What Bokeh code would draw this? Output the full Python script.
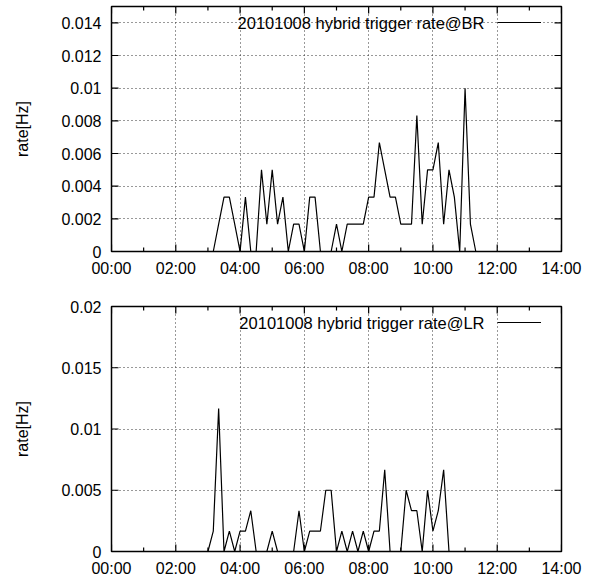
import math
from bokeh.plotting import figure
from bokeh.models import (FixedTicker, LinearAxis, Legend, LegendItem, Label,
                          ColumnDataSource, Range1d, Grid)
from bokeh.layouts import column
from bokeh.embed import file_html
from bokeh.resources import INLINE

# ---- data (10-minute samples) ----
times = [
    "00:00", "00:10", "00:20", "00:30", "00:40", "00:50",
    "01:00", "01:10", "01:20", "01:30", "01:40", "01:50",
    "02:00", "02:10", "02:20", "02:30", "02:40", "02:50",
    "03:00", "03:10", "03:20", "03:30", "03:40", "03:50",
    "04:00", "04:10", "04:20", "04:30", "04:40", "04:50",
    "05:00", "05:10", "05:20", "05:30", "05:40", "05:50",
    "06:00", "06:10", "06:20", "06:30", "06:40", "06:50",
    "07:00", "07:10", "07:20", "07:30", "07:40", "07:50",
    "08:00", "08:10", "08:20", "08:30", "08:40", "08:50",
    "09:00", "09:10", "09:20", "09:30", "09:40", "09:50",
    "10:00", "10:10", "10:20", "10:30", "10:40", "10:50",
    "11:00", "11:10", "11:20",
]

rate_br = [
    0, 0, 0, 0, 0, 0,
    0, 0, 0, 0, 0, 0,
    0, 0, 0, 0, 0, 0,
    0, 0, 0.00167, 0.00333, 0.00333, 0.00167,
    0, 0.00333, 0, 0, 0.005, 0.00167,
    0.005, 0.00167, 0.00333, 0, 0.00167, 0.00167,
    0, 0.00333, 0.00333, 0, 0, 0,
    0.00167, 0, 0.00167, 0.00167, 0.00167, 0.00167,
    0.00333, 0.00333, 0.00667, 0.005, 0.00333, 0.00333,
    0.00167, 0.00167, 0.00167, 0.00833, 0.00167, 0.005,
    0.005, 0.00667, 0.00167, 0.005, 0.00333, 0,
    0.01, 0.00167, 0,
]

rate_lr = [
    0, 0, 0, 0, 0, 0,
    0, 0, 0, 0, 0, 0,
    0, 0, 0, 0, 0, 0,
    0, 0.00167, 0.01167, 0, 0.00167, 0,
    0.00167, 0.00167, 0.00333, 0, 0, 0,
    0.00167, 0, 0, 0, 0, 0.00333,
    0, 0.00167, 0.00167, 0.00167, 0.005, 0.005,
    0, 0.00167, 0, 0.00167, 0, 0.00167,
    0, 0.00167, 0.00167, 0.00667, 0, 0,
    0, 0.005, 0.00333, 0.00333, 0, 0.005,
    0.00167, 0.00333, 0.00667, 0, 0, 0,
    0, 0, 0,
]

x_ticks = [0, 2, 4, 6, 8, 10, 12, 14]
x_tick_labels = ["00:00", "02:00", "04:00", "06:00", "08:00", "10:00", "12:00", "14:00"]
x_minor = [1, 3, 5, 7, 9, 11, 13]
x_min, x_max = 0, 14

y_ticks_br = [0, 0.002, 0.004, 0.006, 0.008, 0.01, 0.012, 0.014]
y_labels_br = ["0", "0.002", "0.004", "0.006", "0.008", "0.01", "0.012", "0.014"]
y_max_br = 0.015

y_ticks_lr = [0, 0.005, 0.01, 0.015, 0.02]
y_labels_lr = ["0", "0.005", "0.01", "0.015", "0.02"]
y_max_lr = 0.02

title_br = "20101008 hybrid trigger rate@BR"
title_lr = "20101008 hybrid trigger rate@LR"
y_title = "rate[Hz]"

FONT = "Liberation Sans"
FS = "16px"
KEY_FS = "16.5px"

hours = [int(t[:2]) + int(t[3:]) / 60.0 for t in times]


def panel(rates, yt, yl, ymax, key, fh, top_border, bottom_border):
    p = figure(frame_width=450, frame_height=fh,
               x_range=Range1d(x_min, x_max), y_range=Range1d(0, ymax),
               output_backend="svg", toolbar_location=None,
               min_border_left=111, min_border_right=30,
               min_border_top=top_border, min_border_bottom=bottom_border,
               x_axis_type=None, y_axis_type=None)
    p.background_fill_color = "white"
    p.border_fill_color = "white"
    p.outline_line_color = "black"
    p.outline_line_width = 1.5

    xt = FixedTicker(ticks=x_ticks, minor_ticks=[])
    ytk = FixedTicker(ticks=yt, minor_ticks=[])

    xa = LinearAxis(ticker=xt,
                    major_label_overrides={v: s for v, s in zip(x_ticks, x_tick_labels)})
    ya = LinearAxis(ticker=ytk, axis_label=y_title,
                    major_label_overrides={v: s for v, s in zip(yt, yl)})
    for ax in (xa, ya):
        ax.major_label_text_font = FONT
        ax.major_label_text_font_size = FS
        ax.major_label_text_color = "black"
        ax.axis_label_text_font = FONT
        ax.axis_label_text_font_size = FS
        ax.axis_label_text_font_style = "normal"
        ax.axis_label_text_color = "black"
        ax.axis_line_color = None
        ax.major_tick_in = 0
        ax.major_tick_out = 0
        ax.minor_tick_in = 0
        ax.minor_tick_out = 0
    xa.major_label_standoff = 8
    ya.major_label_standoff = 10
    ya.axis_label_standoff = 27
    p.add_layout(xa, "below")
    p.add_layout(ya, "left")

    # dotted grid
    gx = Grid(dimension=0, ticker=xt, grid_line_color="#333333",
              grid_line_dash="1 3", grid_line_width=1)
    gy = Grid(dimension=1, ticker=ytk, grid_line_color="#333333",
              grid_line_dash="1 3", grid_line_width=1)
    p.add_layout(gx)
    p.add_layout(gy)

    # inward tick marks on all four sides (clipped to the frame)
    nx, nm, ny = len(x_ticks), len(x_minor), len(yt)
    for yy in (0, ymax):
        p.scatter(x=x_ticks, y=[yy] * nx, marker="dash", angle=math.pi / 2,
                  size=14, line_color="black", line_width=1.2)
        p.scatter(x=x_minor, y=[yy] * nm, marker="dash", angle=math.pi / 2,
                  size=8, line_color="black", line_width=1.2)
    for xx in (x_min, x_max):
        p.scatter(x=[xx] * ny, y=yt, marker="dash", size=14,
                  line_color="black", line_width=1.2)

    src = ColumnDataSource(dict(x=hours, y=rates))
    r = p.line("x", "y", source=src, line_color="black", line_width=1.2)

    p.add_layout(Label(x=373, y=fh - 16, x_units="screen", y_units="screen",
                       text=key, text_align="right", text_baseline="middle",
                       text_font=FONT, text_font_size=KEY_FS, text_color="black"))
    leg = Legend(items=[LegendItem(label=" ", renderers=[r])],
                 location=(386, fh - 16 - 8), glyph_width=44, glyph_height=16,
                 padding=0, margin=0, spacing=0, label_standoff=0, label_width=0,
                 label_height=0, label_text_font_size="16px",
                 border_line_color=None, background_fill_alpha=0)
    p.add_layout(leg)
    return p


p1 = panel(rate_br, y_ticks_br, y_labels_br, y_max_br, title_br, 245, 6, 40)
p2 = panel(rate_lr, y_ticks_lr, y_labels_lr, y_max_lr, title_lr, 245, 15, 26)

layout = column(p1, p2, spacing=0)
open("out.html", "w").write(file_html(layout, INLINE))
